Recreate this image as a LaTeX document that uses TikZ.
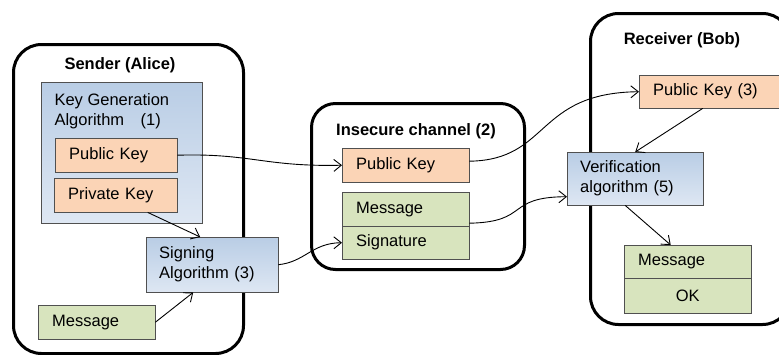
\documentclass[tikz,border=0pt]{standalone}
\usepackage{fontspec}
\setmainfont{Liberation Sans}
\usetikzlibrary{arrows.meta}
\definecolor{algotop}{RGB}{185,205,229}
\definecolor{algobot}{RGB}{222,231,243}
\definecolor{keyfill}{RGB}{251,212,182}
\definecolor{msgfill}{RGB}{216,228,190}
\definecolor{boxline}{RGB}{80,80,80}
\begin{document}
\begin{tikzpicture}[
  x=1pt, y=-1pt,
  every node/.style={font=\fontsize{16.5}{20}\selectfont},
  party/.style={draw, line width=3pt, rounded corners=28pt, anchor=north west},
  title/.style={font=\fontsize{16.5}{20}\selectfont\bfseries},
  algo/.style={draw=boxline, top color=algotop, bottom color=algobot,
    anchor=north west, align=left, inner xsep=13pt},
  keybox/.style={draw=boxline, fill=keyfill, anchor=north west,
    minimum height=34pt, inner xsep=14pt},
  msgbox/.style={draw=boxline, fill=msgfill, anchor=north west,
    minimum height=34pt, inner xsep=14pt},
  flow/.style={line width=0.9pt, -{Straight Barb[length=7.5pt,width=12pt]}},
  ]
  \useasboundingbox (0,0) rectangle (779,354);
  % sender
  \node[party, minimum width=230pt, minimum height=309pt] (sender) at (12,43) {};
  \node[title] at (120,65) {Sender (Alice)};
  \node[algo, minimum width=161pt, minimum height=141pt] (keygen) at (41,82) {};
  \node[anchor=north west, align=left] at ([xshift=10pt,yshift=-8pt]keygen.north west)
    {Key Generation\\Algorithm\quad(1)};
  \node[keybox, text width=94pt] (alicepk) at (55,138) {Public Key};
  \node[keybox, text width=95pt] (alicesk) at (54,178) {Private Key};
  \node[algo, text width=106pt, minimum height=55pt] (signing) at (146,237)
    {Signing\\Algorithm (3)};
  \node[msgbox, text width=89pt] (alicemsg) at (38,305) {Message};
  % channel
  \node[party, rounded corners=24pt, minimum width=213pt, minimum height=166pt] (channel) at (310,102) {};
  \node[title] at (416,131) {Insecure channel (2)};
  \node[keybox, text width=99pt] (chanpk) at (342,148) {Public Key};
  \node[msgbox, text width=99pt] (chanmsg) at (342,192) {Message};
  \node[msgbox, text width=99pt, minimum height=33pt] (chansig) at (342,226) {Signature};
  % receiver
  \node[party, minimum width=200pt, minimum height=311pt] (receiver) at (589,12) {};
  \node[title] at (682,40) {Receiver (Bob)};
  \node[keybox, text width=123pt, minimum height=33pt] (rpk) at (639,75) {Public Key (3)};
  \node[algo, text width=110pt, minimum height=53pt] (verif) at (567,152)
    {Verification\\algorithm (5)};
  \node[msgbox, text width=99pt, minimum height=33pt] (rmsg) at (624,245) {Message};
  \node[msgbox, text width=99pt, minimum height=35pt, align=center] (rok) at (624,278) {OK};
  % connectors
  \draw[flow] (alicepk.east) .. controls (250,153) and (265,167) .. (chanpk.west);
  \draw[flow] ([xshift=32pt]alicesk.south) -- ([xshift=-12pt]signing.north);
  \draw[flow] (alicemsg.east) -- ([xshift=-19pt]signing.south);
  \draw[flow] (signing.east) .. controls (305,262) and (312,243) .. (chansig.west);
  \draw[flow] ([yshift=4pt]chanpk.east) .. controls (550,160) and (535,93) .. (rpk.west);
  \draw[flow] ([yshift=-14pt]chanmsg.east) .. controls (530,222) and (505,197) .. ([yshift=-18pt]verif.west);
  \draw[flow] ([xshift=-12pt]rpk.south) -- (verif.north);
  \draw[flow] ([xshift=-10pt]verif.south) -- ([xshift=-17pt]rmsg.north);
\end{tikzpicture}
\end{document}
